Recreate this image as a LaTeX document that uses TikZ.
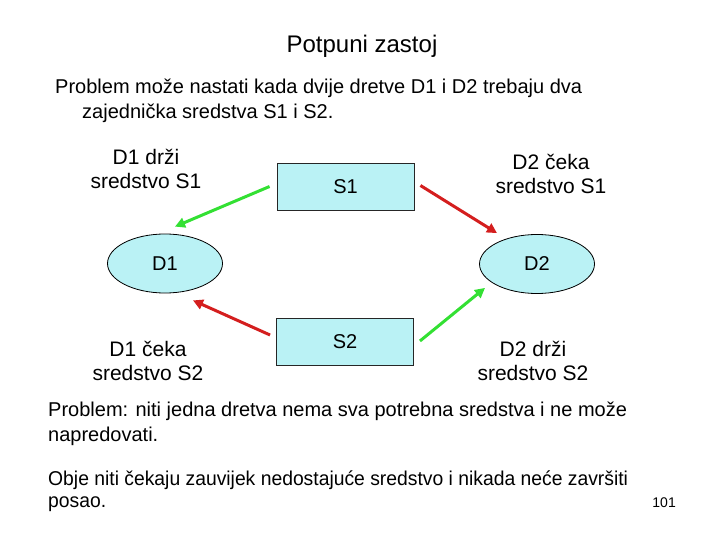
\documentclass[tikz,border=0pt]{standalone}
\usepackage{fontspec}
\usepackage{graphicx}
\setmainfont{Liberation Sans}
\usetikzlibrary{shapes.geometric,arrows.meta,calc}
\definecolor{fillc}{RGB}{186,242,245}
\definecolor{greenc}{RGB}{51,224,51}
\definecolor{redc}{RGB}{212,30,30}
\tikzset{
  res/.style={draw=black!85, line width=0.9pt, fill=fillc, minimum width=137pt, minimum height=47pt, inner sep=0pt, font=\fontsize{20}{24}\selectfont},
  proc/.style={ellipse, draw=black, line width=0.8pt, fill=fillc, minimum width=115pt, minimum height=59pt, inner sep=0pt, font=\fontsize{20}{24}\selectfont},
  lbl/.style={align=center, font=\fontsize{21}{24}\selectfont, inner sep=0pt},
  txt/.style={align=left, anchor=west, font=\fontsize{20}{24.5}\selectfont, inner sep=0pt},
  garrow/.style={draw=greenc, line width=3pt, -{Triangle[length=10pt,width=10pt]}},
  rarrow/.style={draw=redc, line width=3pt, -{Triangle[length=10pt,width=10pt]}}
}
\begin{document}
\begin{tikzpicture}[x=1pt,y=-1pt]
\useasboundingbox (0,0) rectangle (720,540);
\node[font=\fontsize{24}{28}\selectfont, inner sep=0pt] (title) at (362,46) {Potpuni zastoj};
\node[txt] (p1) at (55,88) {Problem može nastati kada dvije dretve D1 i D2 trebaju dva};
\node[txt] (p1b) at (82,113) {zajednička sredstva S1 i S2.};

\node[res] (S1) at (345.5,186.5) {S1};
\node[res] (S2) at (345,342) {S2};
\node[proc] (D1) at (165,263.5) {D1};
\node[proc] (D2) at (537,264) {D2};

\node[lbl] (l1) at (146,169) {D1 drži\\sredstvo S1};
\node[lbl] (l2) at (551,174) {D2 čeka\\sredstvo S1};
\node[lbl] (l3) at (148,361) {D1 čeka\\sredstvo S2};
\node[lbl] (l4) at (533,361) {D2 drži\\sredstvo S2};

\draw[garrow] ($(S1.west)+(-7,0)$) -- ($(D1.north)+(10,-7)$);
\draw[rarrow] ($(S1.east)+(6,-1)$) -- ($(D2.north)+(-40,-1)$);
\draw[rarrow] ($(S2.west)+(-6,-7)$) -- ($(D1.south)+(28,7)$);
\draw[garrow] ($(S2.east)+(6,-1)$) -- ($(D2.south)+(-52,-6)$);

\node[txt] (p2) at (48,411) {Problem: niti jedna dretva nema sva potrebna sredstva i ne može};
\node[txt] (p2b) at (48,436) {napredovati.};
\node[txt] (p3) at (48,480) {\scalebox{0.966}[1]{Obje niti čekaju zauvijek nedostajuće sredstvo i nikada neće završiti}};
\node[txt] (p3b) at (48,504) {\scalebox{0.966}[1]{posao.}};
\node[font=\fontsize{14}{16}\selectfont, inner sep=0pt, anchor=east] (pg) at (676,503) {101};
\end{tikzpicture}
\end{document}
